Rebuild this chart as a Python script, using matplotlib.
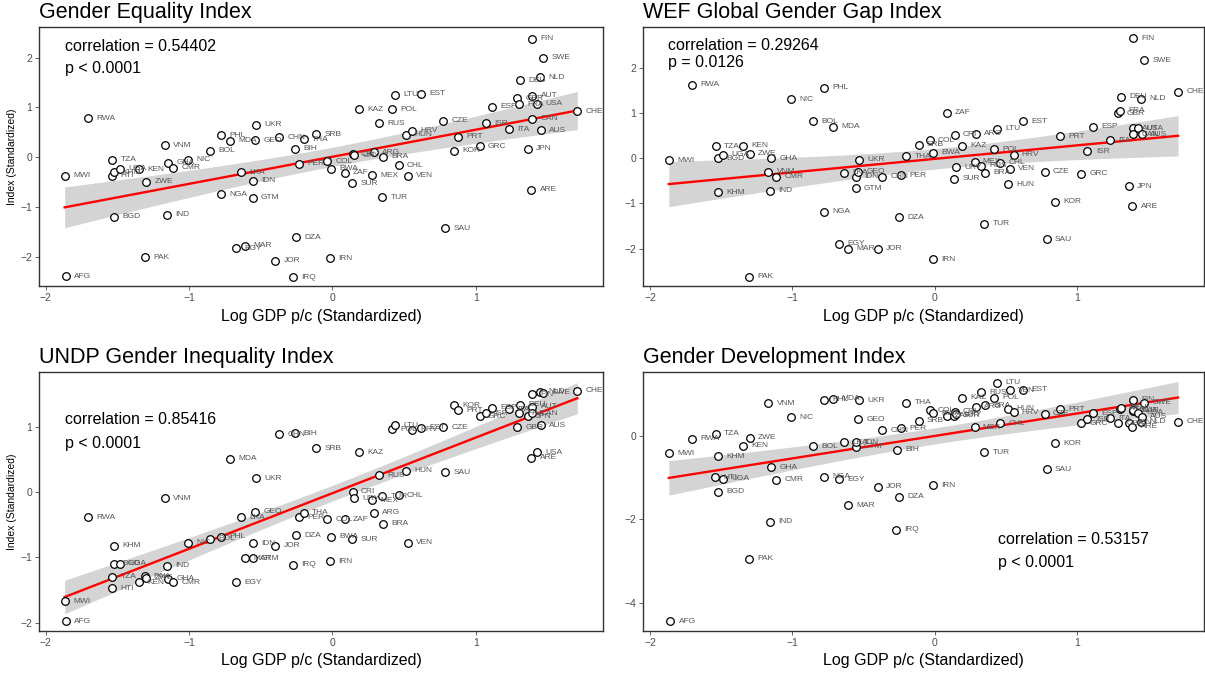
"""
Gender indices vs. log GDP per capita (all standardized), four panels.
Writes: out.png
"""
import numpy as np
import matplotlib
matplotlib.use("Agg")
import matplotlib.pyplot as plt

plt.rcParams["font.family"] = ["Liberation Sans", "DejaVu Sans"]

NA = np.nan

COUNTRIES = [
    "AFG", "MWI", "RWA", "TZA", "HTI", "KHM", "BGD", "UGA", "KEN", "PAK",
    "ZWE", "VNM", "IND", "GHA", "CMR", "NIC", "BOL", "PHL", "NGA", "MDA",
    "EGY", "LKA", "MAR", "GTM", "IDN", "GEO", "UKR", "JOR", "CHN", "IRQ",
    "BIH", "DZA", "PER", "THA", "SRB", "COL", "IRN", "BWA", "ZAF", "SUR",
    "CRI", "URY", "KAZ", "MEX", "ARG", "RUS", "TUR", "BRA", "POL", "LTU",
    "CHL", "HUN", "VEN", "HRV", "EST", "CZE", "SAU", "KOR", "PRT", "GRC",
    "ISR", "ESP", "ITA", "GBR", "FRA", "DEU", "JPN", "ARE", "FIN", "AUT",
    "CAN", "USA", "NLD", "AUS", "SWE", "CHE",
]

LOG_GDP = [
    -1.858, -1.868, -1.708, -1.537, -1.540, -1.521, -1.523, -1.484, -1.347, -1.305,
    -1.300, -1.170, -1.156, -1.147, -1.112, -1.007, -0.856, -0.777, -0.777, -0.717,
    -0.675, -0.640, -0.609, -0.556, -0.553, -0.537, -0.530, -0.400, -0.370, -0.274,
    -0.263, -0.253, -0.235, -0.202, -0.114, -0.037, -0.016, -0.012, 0.084, 0.137,
    0.140, 0.150, 0.188, 0.279, 0.288, 0.326, 0.347, 0.351, 0.417, 0.435,
    0.461, 0.516, 0.526, 0.553, 0.621, 0.772, 0.786, 0.847, 0.879, 1.026,
    1.072, 1.110, 1.233, 1.289, 1.303, 1.307, 1.363, 1.386, 1.393, 1.393,
    1.393, 1.426, 1.447, 1.454, 1.470, 1.708,
]

GEI = [
    -2.39, -0.375, 0.78, -0.05, -0.375, -0.30, -1.20, -0.23, -0.24, -2.01,
    -0.50, 0.24, -1.16, -0.11, -0.21, -0.05, 0.13, 0.44, -0.75, 0.33,
    -1.83, -0.30, -1.78, -0.82, -0.48, 0.34, 0.65, -2.08, 0.40, -2.41,
    0.17, -1.61, -0.13, 0.36, 0.46, -0.08, -2.03, -0.23, -0.31, -0.53,
    0.06, 0.04, 0.96, -0.36, 0.10, 0.68, -0.81, 0.01, 0.96, 1.25,
    -0.16, 0.45, -0.37, 0.53, 1.27, 0.73, -1.43, 0.13, 0.41, 0.22,
    0.68, 1.01, 0.56, 1.18, 1.06, 1.54, 0.17, -0.66, 2.38, 1.23,
    0.77, 1.07, 1.60, 0.54, 2.00, 0.92,
]

WEF = [
    NA, -0.05, 1.63, 0.26, NA, -0.76, 0.00, 0.08, 0.27, -2.63,
    0.10, -0.30, -0.72, 0.00, -0.41, 1.30, 0.82, 1.56, -1.19, 0.69,
    -1.90, -0.32, -2.01, -0.67, -0.41, -0.30, -0.04, -2.01, -0.41, NA,
    NA, -1.31, -0.38, 0.04, 0.30, 0.40, -2.24, 0.12, 1.00, -0.46,
    0.52, -0.20, 0.28, -0.08, 0.54, -0.17, -1.45, -0.32, 0.20, 0.65,
    -0.10, -0.58, -0.24, 0.08, 0.82, -0.30, -1.80, -0.96, 0.49, -0.34,
    0.15, 0.70, 0.40, 0.99, 1.05, 1.36, -0.62, -1.06, 2.65, 0.66,
    0.53, 0.66, 1.31, 0.53, 2.17, 1.47,
]

UNDP_GII = [
    -1.98, -1.67, -0.38, -1.30, -1.47, -0.82, -1.10, -1.10, -1.38, -1.29,
    -1.31, -0.09, -1.13, -1.33, -1.38, -0.77, -0.71, -0.68, NA, 0.52,
    -1.38, -0.38, -1.01, -1.01, -0.78, -0.30, 0.22, -0.82, 0.89, -1.11,
    0.91, -0.66, -0.38, -0.31, 0.68, -0.41, -1.06, -0.68, -0.41, -0.72,
    0.01, -0.09, 0.62, -0.12, -0.31, 0.26, -0.06, -0.48, 0.97, 1.03,
    -0.04, 0.33, -0.77, 0.96, 0.99, 1.00, 0.31, 1.34, 1.26, 1.17,
    1.22, 1.30, 1.28, 1.00, 1.22, 1.35, 1.17, 0.53, 1.51, 1.32,
    1.22, 0.62, 1.55, 1.03, 1.53, 1.56,
]

GDI = [
    -4.45, -0.42, -0.07, 0.05, -0.99, -0.49, -1.34, -1.03, -0.24, -2.95,
    -0.05, 0.78, -2.06, -0.75, -1.05, 0.45, -0.25, 0.87, -0.98, 0.89,
    -1.04, -0.15, -1.66, -0.26, -0.15, 0.40, 0.85, -1.22, 0.14, -2.25,
    -0.33, -1.46, 0.18, 0.80, 0.36, 0.62, -1.18, 0.54, 0.48, 0.48,
    0.58, 0.52, 0.92, 0.21, 0.70, 1.05, -0.39, 0.73, 0.91, 1.27,
    0.30, 0.65, 1.10, 0.57, 1.11, 0.53, -0.80, -0.18, 0.64, 0.30,
    0.40, 0.54, 0.42, 0.30, 0.65, 0.68, 0.32, 0.22, 0.87, 0.60,
    0.62, 0.55, 0.34, 0.46, 0.79, 0.34,
]

TITLES = ["Gender Equality Index", "WEF Global Gender Gap Index",
          "UNDP Gender Inequality Index", "Gender Development Index"]
STATS = [("correlation = 0.54402", "p < 0.0001"),
         ("correlation = 0.29264", "p = 0.0126"),
         ("correlation = 0.85416", "p < 0.0001"),
         ("correlation = 0.53157", "p < 0.0001")]

W, H = 1205, 679


def px_axes(left, top, right, bottom):
    return [left / W, 1 - bottom / H, (right - left) / W, (bottom - top) / H]


def fit_band(x, y, xs, t=1.993):
    n = len(x)
    b, a = np.polyfit(x, y, 1)
    resid = y - (a + b * x)
    s = np.sqrt(np.sum(resid ** 2) / (n - 2))
    sxx = np.sum((x - x.mean()) ** 2)
    yhat = a + b * xs
    se = s * np.sqrt(1 / n + (xs - x.mean()) ** 2 / sxx)
    return yhat, yhat - t * se, yhat + t * se


def panel(ax, yvals, title, stats, stat_pos, ylim, yticks, ylabel):
    x_all = np.array(LOG_GDP)
    y_all = np.array(yvals, dtype=float)
    ok = ~np.isnan(y_all)
    x, y = x_all[ok], y_all[ok]
    names = [c for c, k in zip(COUNTRIES, ok) if k]

    xs = np.linspace(x.min(), x.max(), 100)
    yhat, lo, hi = fit_band(x, y, xs)
    ax.fill_between(xs, lo, hi, color="#d4d4d4", lw=0, zorder=1)
    ax.plot(xs, yhat, color="red", lw=1.7, zorder=2)

    ax.scatter(x, y, s=30, facecolor="white", edgecolor="black", lw=0.9, zorder=3)
    for xi, yi, name in zip(x, y, names):
        ax.annotate(name, (xi, yi), xytext=(6, 0), textcoords="offset points",
                    ha="left", va="center", fontsize=6, color="#555555", zorder=4)

    ax.set_xlim(-2.047, 1.887)
    ax.set_ylim(*ylim)
    ax.set_xticks([-2, -1, 0, 1])
    ax.set_yticks(yticks)
    ax.tick_params(labelsize=7.5, labelcolor="#4d4d4d", length=3, width=0.6,
                   color="#4d4d4d", pad=2)
    for sp in ax.spines.values():
        sp.set_color("#333333")
        sp.set_linewidth(1.0)

    ax.set_title(title, loc="left", fontsize=15.5, pad=6)
    ax.set_xlabel("Log GDP p/c (Standardized)", fontsize=11.5, labelpad=4)
    if ylabel:
        ax.set_ylabel("Index (Standardized)", fontsize=7.5, labelpad=2)

    sx, sy1, sy2 = stat_pos
    ax.text(sx, sy1, stats[0], transform=ax.transAxes, fontsize=11.5,
            ha="left", va="center", zorder=5)
    ax.text(sx, sy2, stats[1], transform=ax.transAxes, fontsize=11.5,
            ha="left", va="center", zorder=5)


def main():
    fig = plt.figure(figsize=(W / 100, H / 100), dpi=100)
    ax1 = fig.add_axes(px_axes(39, 26.7, 603, 286))
    ax2 = fig.add_axes(px_axes(643.3, 26.7, 1203.5, 286))
    ax3 = fig.add_axes(px_axes(39, 371.7, 603, 631))
    ax4 = fig.add_axes(px_axes(643.3, 371.7, 1203.5, 631))

    panel(ax1, GEI, TITLES[0], STATS[0], (0.046, 0.925, 0.840),
          (-2.59, 2.62), [-2, -1, 0, 1, 2], True)
    panel(ax2, WEF, TITLES[1], STATS[1], (0.044, 0.929, 0.862),
          (-2.83, 2.91), [-2, -1, 0, 1, 2], False)
    panel(ax3, UNDP_GII, TITLES[2], STATS[2], (0.046, 0.814, 0.725),
          (-2.13, 1.855), [-2, -1, 0, 1], True)
    panel(ax4, GDI, TITLES[3], STATS[3], (0.633, 0.351, 0.266),
          (-4.68, 1.54), [-4, -2, 0], False)

    fig.savefig("out.png", dpi=100)
    plt.close(fig)


if __name__ == "__main__":
    main()
